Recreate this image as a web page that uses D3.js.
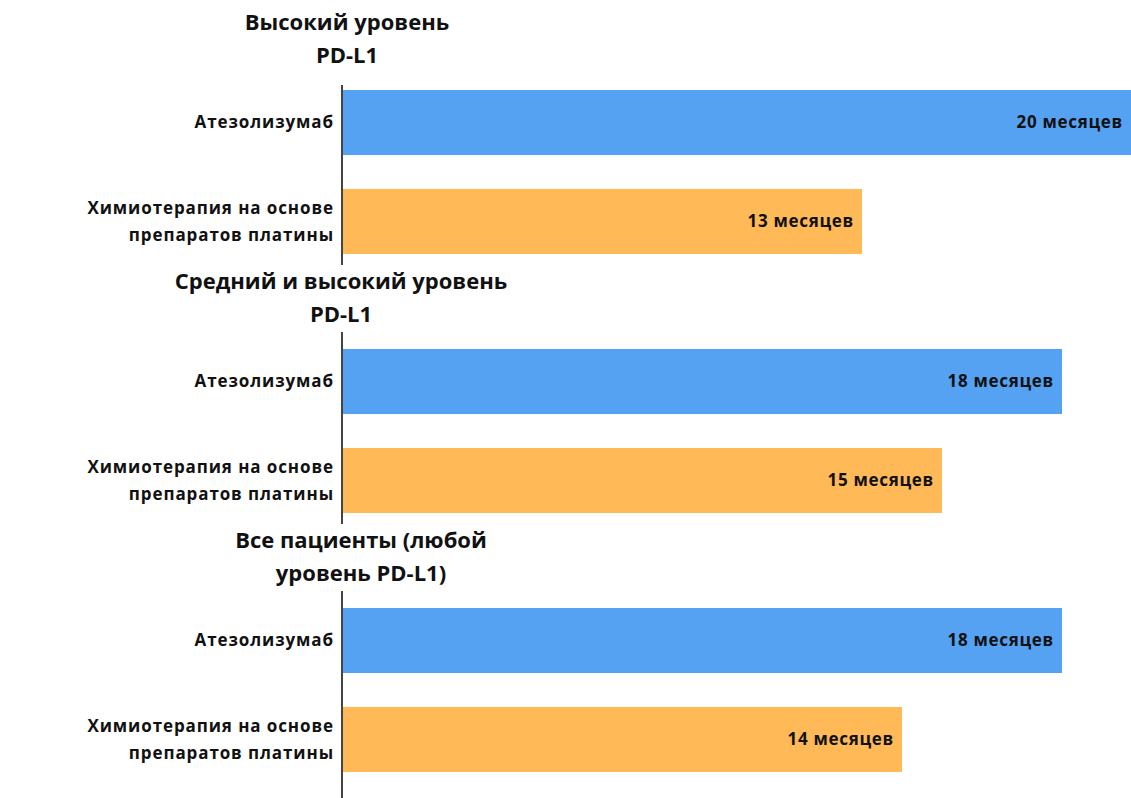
<!DOCTYPE html>
<html>
<head>
<meta charset="utf-8">
<script src="https://cdn.jsdelivr.net/npm/d3@7"></script>
<style>
  body { margin: 0; background: #fff; overflow: hidden; }
  text { font-family: "Open Sans", sans-serif; font-weight: 700; fill: #111; }
</style>
</head>
<body>
<div id="chart"></div>
<script>
// data
const groups = ["high", "midHigh", "all"];
const groupTitles = [
  ["Высокий уровень", "PD-L1"],
  ["Средний и высокий уровень", "PD-L1"],
  ["Все пациенты (любой", "уровень PD-L1)"]
];
const series = ["Атезолизумаб", "Химиотерапия на основе препаратов платины"];
const seriesLines = [["Атезолизумаб"], ["Химиотерапия на основе", "препаратов платины"]];
const atezoValues = [20, 18, 18];
const chemoValues = [13, 15, 14];
const unit = "месяцев";

const w = 1131, h = 798;
const colors = ["#55a2f3", "#ffb957"];
const titleX = [347, 341, 361]; // title centres drift a bit in the original

const svg = d3.select("#chart").append("svg")
  .attr("width", w).attr("height", h);

const x = d3.scaleLinear().domain([0, 20]).range([342, 1142]);
const yGroup = d3.scaleBand().domain(groups).range([0, 777]);
const ySeries = d3.scaleBand().domain(series).range([90, 254]).paddingInner(0.343);

// axis line on the left
svg.append("line")
  .attr("x1", x(0)).attr("x2", x(0))
  .attr("y1", 85).attr("y2", h)
  .attr("stroke", "#444").attr("stroke-width", 2);

const g = svg.selectAll("g.group")
  .data(groups)
  .enter()
  .append("g")
  .attr("class", "group")
  .attr("transform", d => `translate(0,${yGroup(d)})`);

// white box behind titles (hides the axis line)
g.filter((d, i) => i > 0)
  .append("rect")
  .attr("x", (d, i) => i === 0 ? 170 : 230)
  .attr("y", 6)
  .attr("width", (d, i) => i === 0 ? 350 : 310)
  .attr("height", 67)
  .attr("fill", "#fff");

g.each(function(d, gi) {
  const grp = d3.select(this);
  const vals = [atezoValues[gi], chemoValues[gi]];

  // title
  grp.append("text")
    .attr("text-anchor", "middle")
    .attr("font-size", 22)
    .selectAll("tspan")
    .data(groupTitles[gi])
    .enter()
    .append("tspan")
    .attr("x", titleX[gi])
    .attr("y", (t, j) => 30 + j * 33)
    .text(t => t);

  // bars
  grp.selectAll("rect.bar")
    .data(series)
    .enter()
    .append("rect")
    .attr("class", "bar")
    .attr("x", x(0) + 1)
    .attr("y", s => ySeries(s))
    .attr("width", (s, i) => x(vals[i]) - x(0) - 1)
    .attr("height", ySeries.bandwidth())
    .attr("fill", (s, i) => colors[i]);

  // value labels
  grp.selectAll("text.val")
    .data(series)
    .enter()
    .append("text")
    .attr("class", "val")
    .attr("x", (s, i) => Math.min(x(vals[i]), w) - 8)
    .attr("y", s => ySeries(s) + ySeries.bandwidth() / 2)
    .attr("dy", "0.35em")
    .attr("text-anchor", "end")
    .attr("font-size", 17)
    .attr("letter-spacing", 0.7)
    .text((s, i) => vals[i] + " " + unit);

  // category labels
  grp.selectAll("text.cat")
    .data(series)
    .enter()
    .append("text")
    .attr("class", "cat")
    .attr("text-anchor", "end")
    .attr("font-size", 17)
    .attr("letter-spacing", 0.9)
    .each(function(s, i) {
      const lines = seriesLines[i];
      const mid = ySeries(s) + ySeries.bandwidth() / 2;
      d3.select(this).selectAll("tspan")
        .data(lines)
        .enter()
        .append("tspan")
        .attr("x", 334)
        .attr("y", (t, j) => mid + (j - (lines.length - 1) / 2) * 27)
        .attr("dy", "0.35em")
        .text(t => t);
    });
});
</script>
</body>
</html>
